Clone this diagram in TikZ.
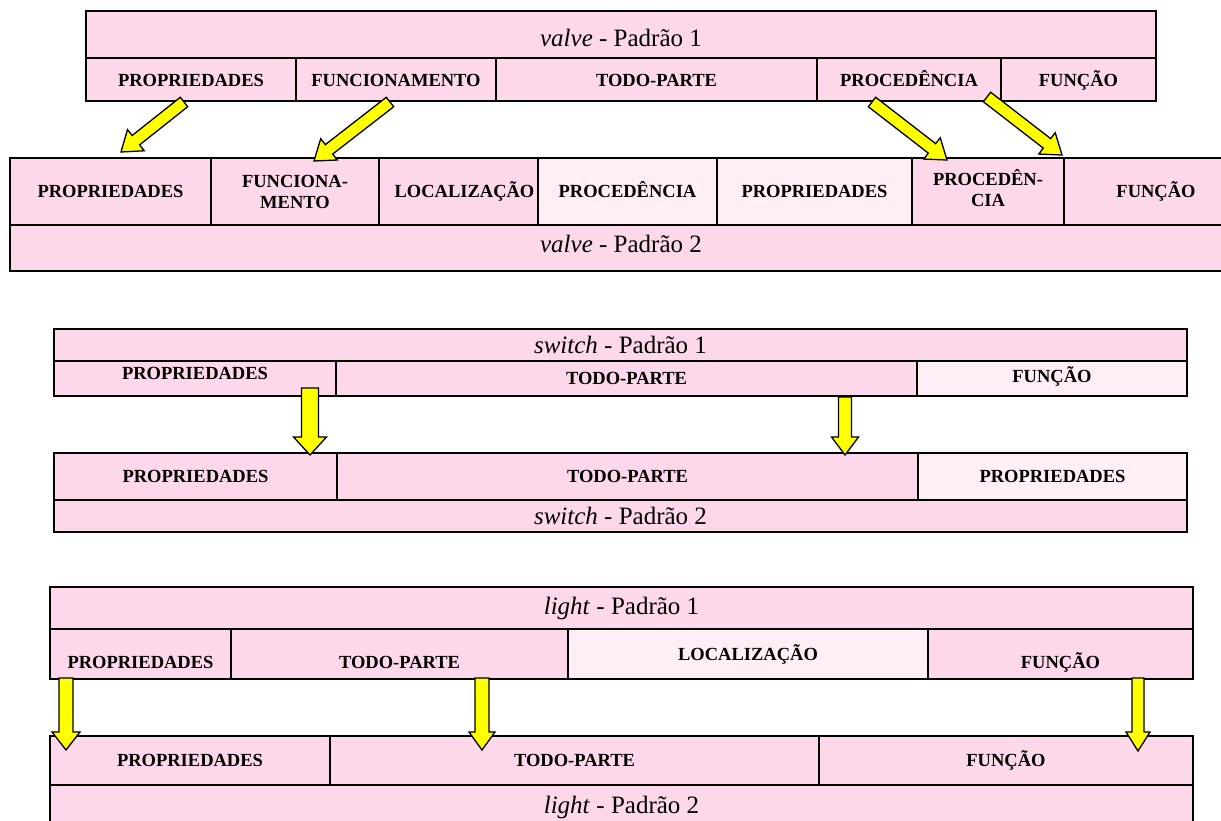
\documentclass[tikz,border=0pt]{standalone}
\usepackage{fontspec}
\setmainfont{Liberation Serif}
\usetikzlibrary{calc}
\definecolor{cellpink}{HTML}{FDD8EB}
\definecolor{cellpale}{HTML}{FFEEF6}
\definecolor{arrowyellow}{HTML}{FFFF00}
\tikzset{
  cellbox/.style={draw=black, line width=2.2pt, rectangle, inner sep=0pt, outer sep=0pt, anchor=north west},
  celltext/.style={font=\bfseries\fontsize{18.5}{21}\selectfont, align=center, inner sep=0pt},
  titletext/.style={font=\fontsize{25}{25}\selectfont, inner sep=0pt},
  fatarrow/.style={draw=black, line width=1.3pt, fill=arrowyellow, line join=miter},
}
% one table cell: name, x1, y1, x2, y2, fill, text style, text offset, text
\newcommand\cellbox[9]{%
  \node[cellbox, fill=#6, minimum width=#4pt-#2pt, minimum height=#5pt-#3pt] (#1) at (#2,#3) {};
  \node[#7] (#1-text) at ($(#1.center)+#8$) {#9};
}
% yellow block arrow: tail, tip, shaft half width, head half width, head length
\newcommand\fatarrow[5]{%
  \coordinate (#2-base) at ($(#2)!#5!(#1)$);
  \draw[fatarrow] ($(#1)!#3!90:(#2)$) -- ($(#2-base)!#3!90:(#2)$) -- ($(#2-base)!#4!90:(#2)$)
    -- (#2) -- ($(#2-base)!#4!-90:(#2)$) -- ($(#2-base)!#3!-90:(#2)$) -- ($(#1)!#3!-90:(#2)$) -- cycle;
}
\begin{document}
\begin{tikzpicture}[x=1pt, y=-1pt]
\useasboundingbox (0,0) rectangle (1221,820);
\clip (0,0) rectangle (1221,820);

% valve, pattern 1
\cellbox{vt1}{86}{11}{1156}{58}{cellpink}{titletext}{(0,3)}{\textit{valve} - Padrão 1}
\cellbox{v1a}{86}{58}{296}{101}{cellpink}{celltext}{(0,1)}{PROPRIEDADES}
\cellbox{v1b}{296}{58}{496}{101}{cellpink}{celltext}{(0,1)}{FUNCIONAMENTO}
\cellbox{v1c}{496}{58}{817}{101}{cellpink}{celltext}{(0,1)}{TODO-PARTE}
\cellbox{v1d}{817}{58}{1001}{101}{cellpink}{celltext}{(0,-0.5)}{PROCEDÊNCIA}
\cellbox{v1e}{1001}{58}{1156}{101}{cellpink}{celltext}{(0,1)}{FUNÇÃO}

% valve, pattern 2
\cellbox{v2a}{10}{158}{211}{225}{cellpink}{celltext}{(0,0)}{PROPRIEDADES}
\cellbox{v2b}{211}{158}{379}{225}{cellpink}{celltext}{(0,0)}{FUNCIONA-\\MENTO}
\cellbox{v2c}{379}{158}{538}{225}{cellpink}{celltext}{(6,0)}{LOCALIZAÇÃO}
\cellbox{v2d}{538}{158}{717}{225}{cellpale}{celltext}{(0,-1.5)}{PROCEDÊNCIA}
\cellbox{v2e}{717}{158}{912}{225}{cellpale}{celltext}{(0,0)}{PROPRIEDADES}
\cellbox{v2f}{912}{158}{1064}{225}{cellpink}{celltext}{(0,-3)}{PROCEDÊN-\\CIA}
\cellbox{v2g}{1064}{158}{1248}{225}{cellpink}{celltext}{(0,0)}{FUNÇÃO}
\cellbox{vt2}{10}{225}{1248}{271}{cellpink}{titletext}{(-8,-4)}{\textit{valve} - Padrão 2}

% switch, pattern 1
\cellbox{st1}{54}{329}{1187}{361}{cellpink}{titletext}{(0,0)}{\textit{switch} - Padrão 1}
\cellbox{s1a}{54}{361}{336}{396}{cellpink}{celltext}{(0,-5)}{PROPRIEDADES}
\cellbox{s1b}{336}{361}{917}{396}{cellpink}{celltext}{(0,0)}{TODO-PARTE}
\cellbox{s1c}{917}{361}{1187}{396}{cellpale}{celltext}{(0,-2)}{FUNÇÃO}

% switch, pattern 2
\cellbox{s2a}{54}{453}{337}{500}{cellpink}{celltext}{(0,0)}{PROPRIEDADES}
\cellbox{s2b}{337}{453}{918}{500}{cellpink}{celltext}{(0,0)}{TODO-PARTE}
\cellbox{s2c}{918}{453}{1187}{500}{cellpale}{celltext}{(0,0)}{PROPRIEDADES}
\cellbox{st2}{54}{500}{1187}{532}{cellpink}{titletext}{(0,0)}{\textit{switch} - Padrão 2}

% light, pattern 1
\cellbox{lt1}{50}{587}{1193}{629}{cellpink}{titletext}{(0,0)}{\textit{light} - Padrão 1}
\cellbox{l1a}{50}{629}{231}{679}{cellpink}{celltext}{(0,8)}{PROPRIEDADES}
\cellbox{l1b}{231}{629}{568}{679}{cellpink}{celltext}{(0,8)}{TODO-PARTE}
\cellbox{l1c}{568}{629}{928}{679}{cellpale}{celltext}{(0,0)}{LOCALIZAÇÃO}
\cellbox{l1d}{928}{629}{1193}{679}{cellpink}{celltext}{(0,8)}{FUNÇÃO}

% light, pattern 2
\cellbox{l2a}{50}{736}{330}{785}{cellpink}{celltext}{(0,0)}{PROPRIEDADES}
\cellbox{l2b}{330}{736}{819}{785}{cellpink}{celltext}{(0,0)}{TODO-PARTE}
\cellbox{l2c}{819}{736}{1193}{785}{cellpink}{celltext}{(0,0)}{FUNÇÃO}
\cellbox{lt2}{50}{785}{1193}{830}{cellpink}{titletext}{(0,0)}{\textit{light} - Padrão 2}

% arrows between the patterns
\coordinate (va1-tail) at (184,102);  \coordinate (va1-tip) at (121,152);
\coordinate (va2-tail) at (390,102);  \coordinate (va2-tip) at (314,161);
\coordinate (va3-tail) at (872,102);  \coordinate (va3-tip) at (947,160);
\coordinate (va4-tail) at (987,97);   \coordinate (va4-tip) at (1062,155);
\fatarrow{va1-tail}{va1-tip}{6pt}{13.5pt}{19pt}
\fatarrow{va2-tail}{va2-tip}{6pt}{13.5pt}{19pt}
\fatarrow{va3-tail}{va3-tip}{6pt}{13.5pt}{19pt}
\fatarrow{va4-tail}{va4-tip}{6pt}{13.5pt}{19pt}

\coordinate (sa1-tail) at (310,388);  \coordinate (sa1-tip) at (310,455);
\coordinate (sa2-tail) at (845,397);  \coordinate (sa2-tip) at (845,455);
\fatarrow{sa1-tail}{sa1-tip}{8.5pt}{16.5pt}{18pt}
\fatarrow{sa2-tail}{sa2-tip}{6.5pt}{13.5pt}{18pt}

\coordinate (la1-tail) at (66,678);   \coordinate (la1-tip) at (66,750);
\coordinate (la2-tail) at (482,678);  \coordinate (la2-tip) at (482,750);
\coordinate (la3-tail) at (1138,678); \coordinate (la3-tip) at (1138,751);
\fatarrow{la1-tail}{la1-tip}{7pt}{14pt}{18pt}
\fatarrow{la2-tail}{la2-tip}{7pt}{13pt}{18pt}
\fatarrow{la3-tail}{la3-tip}{6pt}{12pt}{19pt}
\end{tikzpicture}
\end{document}
